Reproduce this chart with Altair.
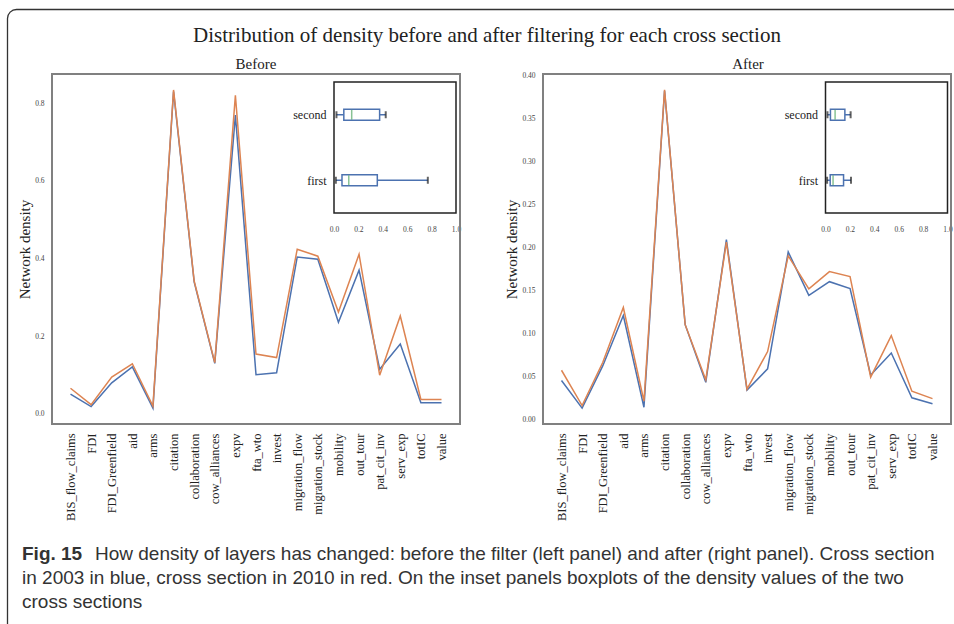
import numpy as np
import pandas as pd
import altair as alt

# ---------------------------------------------------------------- data
categories = ["BIS_flow_claims", "FDI", "FDI_Greenfield", "aid", "arms", "citation",
              "collaboration", "cow_alliances", "expv", "fta_wto", "invest",
              "migration_flow", "migration_stock", "mobility", "out_tour",
              "pat_cit_inv", "serv_exp", "totIC", "value"]

before_2003 = [0.051, 0.019, 0.080, 0.121, 0.015, 0.830, 0.340, 0.130, 0.769, 0.101,
               0.106, 0.404, 0.398, 0.236, 0.370, 0.115, 0.180, 0.029, 0.029]
before_2010 = [0.066, 0.024, 0.095, 0.129, 0.020, 0.834, 0.342, 0.132, 0.820, 0.154,
               0.145, 0.424, 0.406, 0.262, 0.411, 0.0995, 0.252, 0.037, 0.037]

after_2003 = [0.045, 0.013, 0.062, 0.1206, 0.014, 0.382, 0.110, 0.043, 0.209, 0.034,
              0.0586, 0.1946, 0.144, 0.160, 0.152, 0.0516, 0.077, 0.025, 0.018]
after_2010 = [0.057, 0.016, 0.066, 0.130, 0.021, 0.383, 0.110, 0.046, 0.206, 0.035,
              0.0787, 0.190, 0.1516, 0.1717, 0.166, 0.049, 0.0973, 0.0326, 0.024]

years = ["2003", "2010"]
box_labels = ["first", "second"]

before_yticks = [0.0, 0.2, 0.4, 0.6, 0.8]
after_yticks = [0.00, 0.05, 0.10, 0.15, 0.20, 0.25, 0.30, 0.35, 0.40]
inset_xticks = [0.0, 0.2, 0.4, 0.6, 0.8, 1.0]

title_text = "Distribution of density before and after filtering for each cross section"
caption_bold = "Fig. 15"
caption_lines = [
    "How density of layers has changed: before the filter (left panel) and after (right panel). Cross section",
    "in 2003 in blue, cross section in 2010 in red. On the inset panels boxplots of the density values of the two",
    "cross sections",
]

# ---------------------------------------------------------------- layout / style
W, H = 954, 624
FRAME_TOP, FRAME_BOTTOM = 74, 424
INSET_TOP, INSET_BOTTOM = 77, 218

SERIF = "Liberation Serif"
CAPTION_FONT = "Liberation Sans, Arial, sans-serif"
CAPTION_SIZE = 19
BLUE, ORANGE, GREEN = "#4c72b0", "#dd8452", "#55a868"
TEXT = "#222222"

one_row = pd.DataFrame({"k": [0]})


def box_stats(values):
    v = np.asarray(values, dtype=float)
    q1, med, q3 = np.percentile(v, [25, 50, 75])
    iqr = q3 - q1
    low = v[v >= q1 - 1.5 * iqr].min()
    high = v[v <= q3 + 1.5 * iqr].max()
    return dict(low=low, q1=q1, med=med, q3=q3, high=high)


def lines_layer(s2003, s2010, x_first, x_last, frame_left, ydomain, yticks, yfmt, ytitle_x):
    df = pd.DataFrame({
        "category": categories * 2,
        "idx": list(range(len(categories))) * 2,
        "year": [years[0]] * len(categories) + [years[1]] * len(categories),
        "density": list(s2003) + list(s2010),
    })
    return alt.Chart(df).mark_line(strokeWidth=1.5).encode(
        x=alt.X("category:N",
                scale=alt.Scale(type="point", domain=categories, range=[x_first, x_last], padding=0),
                axis=alt.Axis(orient="bottom", offset=FRAME_BOTTOM - H, labelAngle=270,
                              labelAlign="right", labelBaseline="middle", labelPadding=9,
                              labelFont=SERIF, labelFontSize=12.5, labelColor=TEXT,
                              labelOverlap=False, labelFlush=False, title=None)),
        y=alt.Y("density:Q",
                scale=alt.Scale(domain=ydomain, range=[FRAME_BOTTOM, FRAME_TOP], nice=False, zero=False),
                axis=alt.Axis(orient="left", offset=-frame_left, values=yticks, format=yfmt,
                              labelFont=SERIF, labelFontSize=7.5, labelColor="#444444",
                              labelPadding=8, labelOverlap=False, labelFlush=False,
                              title="Network density", titleFont=SERIF, titleFontSize=15,
                              titleFontWeight="normal", titleColor=TEXT,
                              titleX=ytitle_x - frame_left,
                              titleY=(FRAME_TOP + FRAME_BOTTOM) / 2,
                              titleAngle=270, titleAlign="center", titleBaseline="middle")),
        color=alt.Color("year:N", scale=alt.Scale(domain=years, range=[BLUE, ORANGE]), legend=None),
        order=alt.Order("idx:Q"),
    )


def frame_layer(x0, x1):
    return alt.Chart(one_row).mark_rect(fillOpacity=0, stroke="#808080", strokeWidth=2).encode(
        x=alt.value(x0), x2=alt.value(x1), y=alt.value(FRAME_TOP), y2=alt.value(FRAME_BOTTOM))


def inset_layer(s2003, s2010, ix0, ix1):
    rows = []
    for i, (lab, vals) in enumerate(zip(box_labels, [s2003, s2010])):
        st = box_stats(vals)
        st.update(series=lab, pos=i + 1)
        rows.append(st)
    stats = pd.DataFrame(rows)

    xscale = alt.Scale(domain=[0, 1], range=[ix0, ix1], nice=False, zero=False)
    yscale = alt.Scale(domain=[0.5, 2.5], range=[INSET_BOTTOM, INSET_TOP], nice=False, zero=False)
    xaxis = alt.Axis(orient="bottom", offset=INSET_BOTTOM - H, values=inset_xticks, format=".1f",
                     labelFont=SERIF, labelFontSize=7.5, labelColor="#444444", labelPadding=7,
                     labelFlush=False, labelOverlap=False, title=None)
    label_expr = f"datum.value == 1 ? '{box_labels[0]}' : '{box_labels[1]}'"
    yaxis = alt.Axis(orient="left", offset=-ix0, values=[1, 2], labelExpr=label_expr,
                     labelFont=SERIF, labelFontSize=12, labelColor=TEXT, labelPadding=8,
                     labelFlush=False, labelOverlap=False, title=None)

    def X(field):
        return alt.X(f"{field}:Q", scale=xscale, axis=xaxis)

    Y = alt.Y("pos:Q", scale=yscale, axis=yaxis)

    frame = alt.Chart(one_row).mark_rect(fill="white", stroke="#222222", strokeWidth=1.5).encode(
        x=alt.X(datum=0, type="quantitative", scale=xscale, axis=xaxis),
        x2=alt.X2(datum=1),
        y=alt.Y(datum=0.5, type="quantitative", scale=yscale, axis=yaxis),
        y2=alt.Y2(datum=2.5),
    )
    base = alt.Chart(stats)
    whisk_lo = base.mark_rule(color=BLUE, strokeWidth=1.5).encode(x=X("low"), x2="q1:Q", y=Y)
    whisk_hi = base.mark_rule(color=BLUE, strokeWidth=1.5).encode(x=X("q3"), x2="high:Q", y=Y)
    box = base.mark_bar(size=11, orient="horizontal", fill="white", stroke=BLUE,
                        strokeWidth=1.5).encode(x=X("q1"), x2="q3:Q", y=Y)
    cap_lo = base.mark_tick(orient="vertical", size=7, thickness=2, color="#222222").encode(x=X("low"), y=Y)
    cap_hi = base.mark_tick(orient="vertical", size=7, thickness=2, color="#222222").encode(x=X("high"), y=Y)
    median = base.mark_tick(orient="vertical", size=10, thickness=1.5, color=GREEN).encode(x=X("med"), y=Y)
    return alt.layer(frame, whisk_lo, whisk_hi, box, cap_lo, cap_hi, median)


def text_layer(text, x, y, size, font, weight="normal", align="center", color=TEXT):
    return alt.Chart(pd.DataFrame({"t": [text]})).mark_text(
        font=font, fontSize=size, fontWeight=weight, align=align, baseline="alphabetic", color=color
    ).encode(x=alt.value(x), y=alt.value(y), text="t:N")


border = alt.Chart(one_row).mark_rect(fillOpacity=0, stroke="#333333", strokeWidth=1.3, cornerRadius=9).encode(
    x=alt.value(7.5), x2=alt.value(W + 30), y=alt.value(9.5), y2=alt.value(H + 30))

left_lines = lines_layer(before_2003, before_2010, 70.5, 441.5, 52, [-0.026, 0.875],
                         before_yticks, ".1f", 24)
right_lines = lines_layer(after_2003, after_2010, 561.5, 932.5, 543, [-0.0055, 0.4015],
                          after_yticks, ".2f", 511)

layers = [
    border,
    left_lines,
    right_lines,
    frame_layer(52, 460),
    frame_layer(543, 951),
    inset_layer(before_2003, before_2010, 334, 456),
    inset_layer(after_2003, after_2010, 825.5, 947.5),
    text_layer(title_text, 487, 42, 21, SERIF),
    text_layer("Before", 256, 69, 15, SERIF),
    text_layer("After", 748, 69, 15, SERIF),
    text_layer(caption_bold, 22, 560, CAPTION_SIZE, CAPTION_FONT, weight="bold", align="left", color="#333333"),
    text_layer(caption_lines[0], 95, 560, CAPTION_SIZE, CAPTION_FONT, align="left", color="#333333"),
    text_layer(caption_lines[1], 22, 584, CAPTION_SIZE, CAPTION_FONT, align="left", color="#333333"),
    text_layer(caption_lines[2], 22, 608, CAPTION_SIZE, CAPTION_FONT, align="left", color="#333333"),
]

chart = alt.layer(*layers).resolve_scale(
    x="independent", y="independent"
).properties(
    width=W, height=H, autosize=alt.AutoSizeParams(type="none"), padding=0, background="white"
).configure_view(stroke=None).configure_axis(grid=False, domain=False, ticks=False)

chart.save("out.html", embed_options={"renderer": "svg", "actions": False})
